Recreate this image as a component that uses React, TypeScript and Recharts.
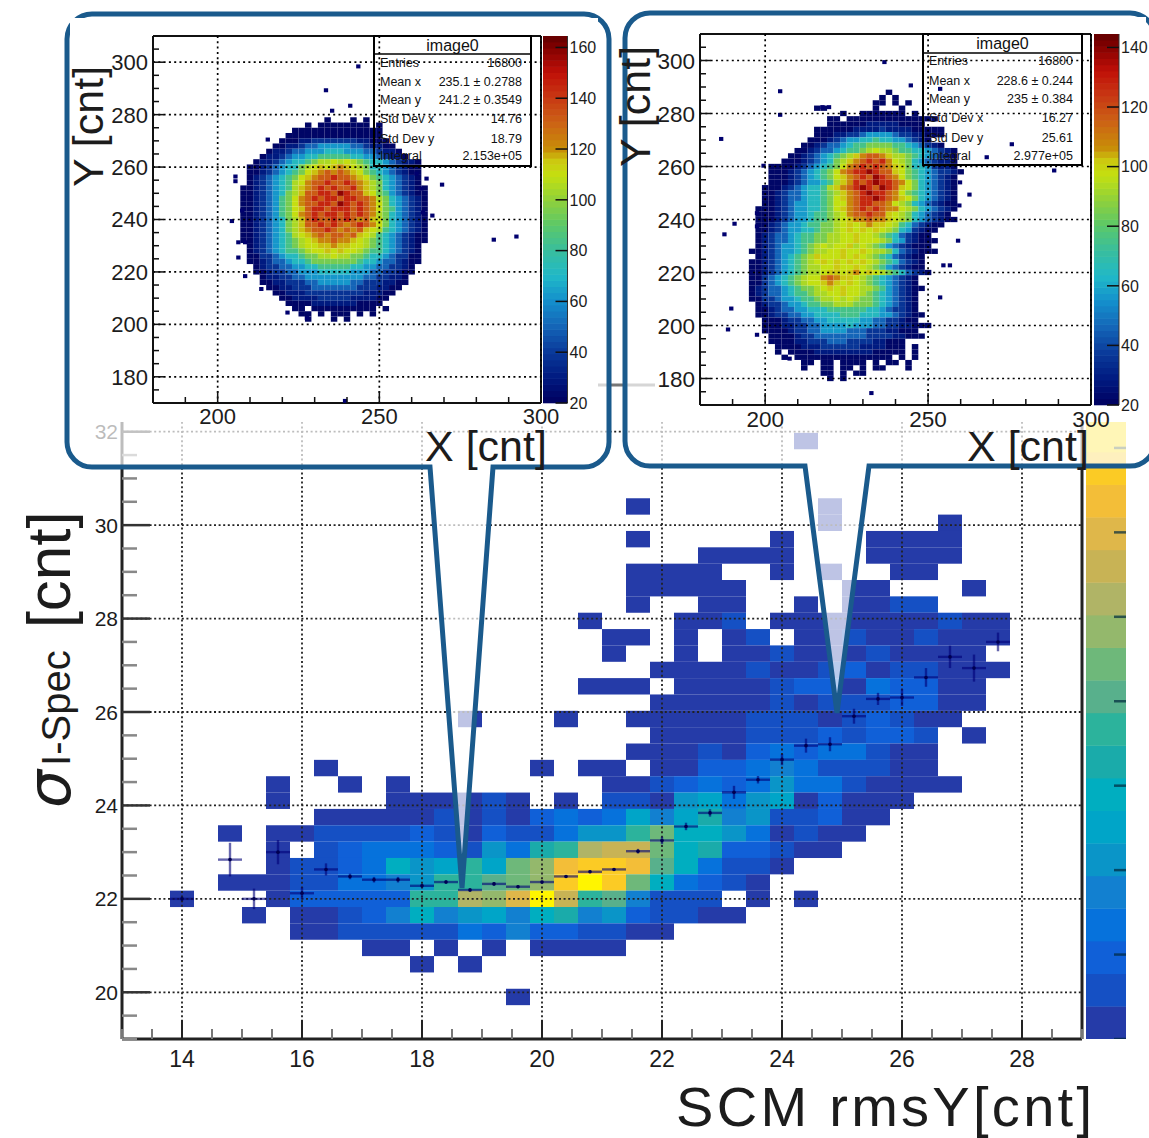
import React from 'react';
import { ScatterChart, Scatter, XAxis, YAxis, CartesianGrid, ErrorBar } from 'recharts';

// main histogram: one string per row, top row first, chars are colour levels (base 36), '.' = empty
// row k sits at y = 22 + 0.35k, first column at x = 14, columns 0.4 wide
const MAIN_TOP_ROW = 28;
const MAIN_ROWS = [
  '..........................0',
  '',
  '',
  '',
  '...................0.......0',
  '...........................0....0',
  '...................0.....0...0000',
  '......................0000...0000',
  '...................0000..0.0..00',
  '...................00000....00...0',
  '...................0..00..0.0011',
  '.................0...001.0000000100',
  '..................00.0.01.001001000',
  '..................0..0.00100010000',
  '....................000010012011000',
  '.................000.0000122032200',
  '....................00000101112200',
  '............0...0..00000111012100',
  '....................000011121221.0',
  '...................0001023233100',
  '......0........0.00.002234311100',
  '....0..0.0........001232353310000',
  '....0....000010.0.1105635602000',
  '......000001010232364684511200',
  '..0.0011112102113559b77530100',
  '....0.12333215389deeb7822100',
  '....0112375696bcghhga73110',
  '..00011334599abchjhb73210',
  '0...02222299dcfje9a4111.0.0',
  '...0.0012474564784521100',
  '.....0011111324221100',
  '........00.0.0.0000',
  '..........0.0',
  '',
  '..............0',
];
const MAIN_LEVEL_COLORS = [
  '#253BA8', '#1550C4', '#1060D8', '#0672DC', '#1280D0', '#0A95C8', '#00A5C8', '#00AEC0', '#1AABAA', '#2CB39C',
  '#58B08C', '#6EB87A', '#94B86C', '#B0B466', '#C8B355', '#DFB74A', '#F3BE38', '#FBCB25', '#FFE010', '#FFF500',
];

// profile points on top of the histogram
const PROFILE_X = [14, 14.8, 15.2, 15.6, 16, 16.4, 16.8, 17.2, 17.6, 18, 18.4, 18.8, 19.2, 19.6, 20, 20.4, 20.8, 21.2, 21.6, 22, 22.4, 22.8, 23.2, 23.6, 24, 24.4, 24.8, 25.2, 25.6, 26, 26.4, 26.8, 27.2, 27.6];
const PROFILE_Y = [22, 22.84, 22, 23, 22.12, 22.63, 22.48, 22.41, 22.41, 22.28, 22.36, 22.19, 22.32, 22.26, 22.36, 22.48, 22.58, 22.63, 23.02, 23.25, 23.55, 23.84, 24.28, 24.55, 24.98, 25.28, 25.31, 25.91, 26.28, 26.31, 26.74, 27.18, 26.94, 27.5];
const PROFILE_ERR = [0.05, 0.36, 0.22, 0.26, 0.13, 0.13, 0.06, 0.06, 0.06, 0.04, 0.04, 0.04, 0.04, 0.03, 0.03, 0.03, 0.03, 0.03, 0.05, 0.08, 0.08, 0.08, 0.14, 0.08, 0.12, 0.15, 0.15, 0.16, 0.13, 0.18, 0.2, 0.24, 0.29, 0.2];

const MAIN_X_TICKS = [13, 13.5, 14, 14.5, 15, 15.5, 16, 16.5, 17, 17.5, 18, 18.5, 19, 19.5, 20, 20.5, 21, 21.5, 22, 22.5, 23, 23.5, 24, 24.5, 25, 25.5, 26, 26.5, 27, 27.5, 28, 28.5, 29];
const MAIN_Y_TICKS = [19, 19.5, 20, 20.5, 21, 21.5, 22, 22.5, 23, 23.5, 24, 24.5, 25, 25.5, 26, 26.5, 27, 27.5, 28, 28.5, 29, 29.5, 30, 30.5, 31, 31.5, 32, 32.5, 33];
const MAIN_X_MAJOR = [14, 16, 18, 20, 22, 24, 26, 28];
const MAIN_Y_MAJOR = [20, 22, 24, 26, 28, 30, 32];
const MAIN_BAR_TICKS = [0, 2.59, 5.18, 7.77, 10.36, 12.95, 15.54, 18.13];

// inset counts per level char
const LEVEL_CHARS = '0123456789abcde';
const LEFT_COUNTS = [22, 30, 38, 50, 62, 72, 84, 95, 105, 110, 116, 122, 132, 145, 158];
const RIGHT_COUNTS = [22, 29, 36, 46, 57, 65, 75, 85, 93, 97, 102, 108, 116, 127, 138];

// left inset: first row y = 278, rows step -2; first column x = 206, columns step 2
const LEFT_ROWS = [
  '..............0...0.0',
  '...........0.00000000.0',
  '.........00000000000000',
  '........000000000000000',
  '.......00011222222211000',
  '......0011233444443321100',
  '.....011233444555444332110',
  '....01123445566666554432110',
  '...0112345567889898765543211 0'.replace(' ', ''),
  '..00123455789a9aba98755432100',
  '..0012345679abcbcba9765432100',
  '..012345679abccdccba976543210',
  '..012345689bccdccdcba87543210',
  '.001234568abcdcdccdba875432100',
  '.00123457 8accddcedcca976432100'.replace(' ', ''),
  '.001234679bcdcddcddccb87543210',
  '.001234679bccddcedcdcb97543210',
  '.001234679acddcdddcdcb97643210',
  '.001234679bcdcddcdcdcb87543210',
  '.001234578acdccdcdcbca97543210',
  '.001234578accdcdcbcdcb97543210',
  '.001234578abccdcbcbca986543210',
  '.0012345689abcbccbca9865432100',
  '.00123456789abbcbba98765432100',
  '..01234567899aabaa99876543210',
  '..012345667899a9a998766543210',
  '..002234556778898877655432200',
  '..001233455677777776554332100',
  '...0122334455666665544332210',
  '...0012233444555554443322100',
  '....01122334444444443322110',
  '....00112223344444332221100',
  '.....001122233333332221 100'.replace(' ', ''),
  '......0011122222222211100',
  '.......00111122222111100',
  '........000011111110000',
  '.........00.0000000000.0',
  '..........00.0.000.0.0',
  '...........0...0.0',
];
const LEFT_STRAY_X = [233.5, 235.4, 241, 243.5, 215.5, 205.5, 205.5, 204.4, 207.6, 206.4, 208.5, 206.4, 208.5, 213.5, 221.6, 227.6, 261.5, 264.6, 269.4, 266.4, 263.5, 285.4, 292.4, 263, 239.4];
const LEFT_STRAY_Y = [289.3, 281.5, 283.4, 298.4, 270.5, 256.4, 254.6, 239.4, 243.4, 231.3, 231.3, 225.5, 218.4, 213.5, 204.5, 202.4, 257.5, 255.6, 253.3, 241.5, 242.7, 232.3, 233.5, 251.8, 170.8];

// right inset: first row y = 288, rows step -2; first column x = 192, columns step 2
const RIGHT_ROWS = [
  '.......................0',
  '......................0.0',
  '.....................00.0.0',
  '............00.......0...0',
  '................0..0000000.0',
  '..............00.00000000000000',
  '..............000000111110000',
  '............00000011112111100000',
  '............00011223444432211000',
  '...........0001234455655443210',
  '..........0012334566777766543210',
  '.........0012334566789887665543210',
  '........0012345678abccba8876543210',
  '.......0001234578abcdcdb9875432110',
  '.....000012345679bcdcdcba975542110',
  '.....00012345679bcddedcca9765432210',
  '.....00012345679abcdcedcb976543210',
  '.....00012344568abdcdeddcb97543210',
  '....00012345568abcdedcedca97543210',
  '....001233455678abcdeddcb976543210',
  '....001233455679abcddedcba97543210',
  '....0012344556799bcddccb9875432100',
  '...0001234455679abcdcdcbb987543210',
  '...00012344566789bccdcca987543210',
  '...00012344566789abbcbba9875432100',
  '...00123445667789a9abaa986532100',
  '...00123445567789a9a9a987542100',
  '...012334566778899a99876532100',
  '...012334566778899a999875421000',
  '...01234456789899a898764321000',
  '..00123445678899a99a98875321000',
  '...012345678a999a9a9876532100',
  '..00123456789a9a9a9a987653210',
  '..0012345678899a99a9876432100',
  '..001234567889aa9ab9a987653210',
  '..00234567899bcbaa9876543210',
  '..00234567899aba9a9876543210',
  '..012334567789a9a998876432100',
  '..0123345667889 9a998765 43210'.replace(/ /g, ''),
  '..00223445667889898776543210',
  '...0122344566778887776543210',
  '...0012334455566666655432210',
  '...00122334455556665554432100',
  '....000122334455555443322100',
  '....00011223344445444332211000',
  '....000012233444433322211000',
  '.....000012233333333222211000',
  '.....000011222333222211000',
  '......00001112222221111000.0',
  '......0.000011111111100000.0',
  '.......0.000000000000000.0.0',
  '..........00.00.0000.0.00.0',
  '..........0..00.00.0.00...0',
  '.............00.0.00',
  '..............0.0',
];
const RIGHT_STRAY_X = [186.5, 204.6, 236.6, 244.7, 217.6, 219.6, 204.6, 199.5, 187.5, 190.6, 197.5, 197.5, 189.6, 188.6, 197.5, 232.6, 207.5, 253.7, 275.7, 268, 288.7, 262.7, 259.8, 259.6, 259.2, 253.7, 256.7, 254.7];
const RIGHT_STRAY_Y = [270.4, 288.4, 299.4, 290.6, 282.4, 282.4, 279.5, 260.3, 234.4, 238.4, 242.4, 237.4, 206.4, 198.5, 196.5, 174.5, 187.5, 289.3, 268.4, 263.5, 258.5, 249.4, 254, 245.3, 232, 210.6, 222.7, 222.7];

const INSET_X_TICKS = [180, 190, 200, 210, 220, 230, 240, 250, 260, 270, 280, 290, 300];
const INSET_Y_TICKS = [170, 175, 180, 185, 190, 195, 200, 205, 210, 215, 220, 225, 230, 235, 240, 245, 250, 255, 260, 265, 270, 275, 280, 285, 290, 295, 300, 305, 310];
const INSET_X_MAJOR = [200, 250, 300];
const INSET_Y_MAJOR = [180, 200, 220, 240, 260, 280, 300];
const LEFT_BAR_TICKS = [20, 40, 60, 80, 100, 120, 140, 160];
const RIGHT_BAR_TICKS = [20, 40, 60, 80, 100, 120, 140];

const LEFT_STATS = [
  ['Entries', '16800'], ['Mean x', '235.1 ± 0.2788'], ['Mean y', '241.2 ± 0.3549'],
  ['Std Dev x', '14.76'], ['Std Dev y', '18.79'], ['Integral', '2.153e+05'],
];
const RIGHT_STATS = [
  ['Entries', '16800'], ['Mean x', '228.6 ±  0.244'], ['Mean y', '235 ±  0.384'],
  ['Std Dev x', '16.27'], ['Std Dev y', '25.61'], ['Integral', '2.977e+05'],
];

const FONT = '"Liberation Sans", Arial, sans-serif';
const BLUE = '#1A5A8C';

const RAINBOW: [number, string][] = [
  [0, '#00005F'], [0.07, '#001A80'], [0.14, '#0A3A9A'], [0.21, '#1466B8'], [0.28, '#1490CC'], [0.345, '#20B8C8'],
  [0.415, '#38BE9E'], [0.485, '#5CC868'], [0.55, '#8ED03C'], [0.62, '#C4E010'], [0.66, '#CCC810'], [0.69, '#C89008'],
  [0.76, '#CC6414'], [0.83, '#C83A14'], [0.9, '#C01008'], [0.97, '#800000'], [1, '#600000'],
];

function rainbow(f: number) {
  const t = Math.max(0, Math.min(1, f));
  let i = 0;
  while (i < RAINBOW.length - 2 && RAINBOW[i + 1][0] < t) i++;
  const [a, ca] = RAINBOW[i];
  const [b, cb] = RAINBOW[i + 1];
  const u = (t - a) / (b - a);
  const ch = (c: string, k: number) => parseInt(c.slice(k, k + 2), 16);
  const mix = (k: number) => Math.round(ch(ca, k) + (ch(cb, k) - ch(ca, k)) * u);
  return `rgb(${mix(1)},${mix(3)},${mix(5)})`;
}

const mainCells: { x: number; y: number; fill: string }[] = [];
MAIN_ROWS.forEach((row, r) => {
  [...row].forEach((c, i) => {
    if (c === '.') return;
    mainCells.push({ x: 14 + i * 0.4, y: 22 + (MAIN_TOP_ROW - r) * 0.35, fill: MAIN_LEVEL_COLORS[parseInt(c, 36)] });
  });
});
const profile = PROFILE_X.map((x, i) => ({ x, y: PROFILE_Y[i], ex: 0.2, ey: PROFILE_ERR[i] }));

function insetCells(rows: string[], x0: number, y0: number, counts: number[], top: number) {
  const out: { x: number; y: number; fill: string }[] = [];
  rows.forEach((row, r) => {
    [...row].forEach((c, i) => {
      const lv = LEVEL_CHARS.indexOf(c);
      if (lv < 0) return;
      out.push({ x: x0 + i * 2, y: y0 - r * 2, fill: rainbow((counts[lv] - 20) / (top - 20)) });
    });
  });
  return out;
}

// rect marker of a fixed pixel size around the scaled point
const cellShape = (w: number, h: number) => (p: any) => (
  <rect x={p.cx - w / 2} y={p.cy - h / 2} width={w} height={h} fill={p.payload.fill || '#00006E'} />
);

type TickOpts = { side: string; majors: number[]; majorLen: number; minorLen: number; labels?: boolean; font?: number; gap?: number; color?: string; minorColor?: string; width?: number };

const makeTick = (o: TickOpts) => (p: any) => {
  const v = p.payload.value;
  const isMajor = o.majors.includes(v);
  const len = isMajor ? o.majorLen : o.minorLen;
  const dx = o.side === 'left' ? len : o.side === 'right' ? -len : 0;
  const dy = o.side === 'bottom' ? -len : o.side === 'top' ? len : 0;
  return (
    <g>
      <line x1={p.x} y1={p.y} x2={p.x + dx} y2={p.y + dy} stroke={isMajor ? o.color || '#111' : o.minorColor || o.color || '#111'} strokeWidth={o.width || 1.5} />
      {o.labels && isMajor && o.side === 'bottom' && (
        <text x={p.x} y={p.y + (o.gap || 0)} textAnchor="middle" fontFamily={FONT} fontSize={o.font} fill="#1c1c1c">{v}</text>
      )}
      {o.labels && isMajor && o.side === 'left' && (
        <text x={p.x - (o.gap || 0)} y={p.y} dy="0.36em" textAnchor="end" fontFamily={FONT} fontSize={o.font} fill="#1c1c1c">{v}</text>
      )}
    </g>
  );
};

const MainChart = () => (
  <ScatterChart width={1149} height={1138} margin={{ top: 384, right: 66, bottom: 0, left: 0 }} style={{ position: 'absolute', left: 0, top: 0 }}>
    <XAxis type="number" dataKey="x" domain={[13, 29]} ticks={MAIN_X_TICKS} interval={0} height={99} tickSize={0} tickMargin={0} tickLine={false}
      axisLine={{ stroke: '#222', strokeWidth: 3 }}
      tick={makeTick({ side: 'bottom', majors: MAIN_X_MAJOR, majorLen: 19, minorLen: 10, labels: true, font: 23, gap: 28, color: '#222', minorColor: '#777', width: 2 })} />
    <XAxis xAxisId="top" orientation="top" type="number" dataKey="x" domain={[13, 29]} ticks={MAIN_X_TICKS} interval={0} height={1} tickSize={0} tickMargin={0} tickLine={false}
      axisLine={{ stroke: '#777', strokeWidth: 3 }}
      tick={makeTick({ side: 'top', majors: MAIN_X_MAJOR, majorLen: 19, minorLen: 10, color: '#777', minorColor: '#777', width: 2 })} />
    <YAxis type="number" dataKey="y" domain={[19, 33]} ticks={MAIN_Y_TICKS} interval={0} width={122} tickSize={0} tickMargin={0} tickLine={false}
      axisLine={{ stroke: '#222', strokeWidth: 3 }}
      tick={makeTick({ side: 'left', majors: MAIN_Y_MAJOR, majorLen: 28, minorLen: 15, labels: true, font: 21, gap: 4, color: '#333', minorColor: '#888', width: 2.5 })} />
    <YAxis yAxisId="right" orientation="right" type="number" dataKey="y" domain={[19, 33]} ticks={MAIN_Y_TICKS} interval={0} width={1} tickSize={0} tickMargin={0} tickLine={false}
      axisLine={{ stroke: '#222', strokeWidth: 3 }}
      tick={makeTick({ side: 'right', majors: MAIN_Y_MAJOR, majorLen: 28, minorLen: 15, color: '#333', minorColor: '#888', width: 2.5 })} />
    <Scatter data={mainCells} isAnimationActive={false} shape={cellShape(24, 16.4)} />
    <CartesianGrid zIndex={650} verticalValues={MAIN_X_MAJOR} horizontalValues={MAIN_Y_MAJOR} stroke="#222" strokeWidth={1.8} strokeDasharray="2 2.6" />
    <Scatter zIndex={670} data={profile} isAnimationActive={false} shape={(p: any) => <circle cx={p.cx} cy={p.cy} r={1.8} fill="#000050" />}>
      <ErrorBar zIndex={660} dataKey="ex" direction="x" width={0} stroke="rgba(0,0,120,0.6)" strokeWidth={2.4} isAnimationActive={false} />
      <ErrorBar zIndex={660} dataKey="ey" direction="y" width={0} stroke="rgba(0,0,120,0.6)" strokeWidth={2.4} isAnimationActive={false} />
    </Scatter>
  </ScatterChart>
);

const MainBar = () => {
  const levelH = 32.6;
  const cells = MAIN_LEVEL_COLORS.map((fill, i) => ({ x: 0.5, y: i + 0.5, fill }));
  return (
    <ScatterChart width={41} height={654} margin={{ top: 0, right: 0, bottom: 0, left: 0 }} style={{ position: 'absolute', left: 1086, top: 385 }}>
      <XAxis type="number" dataKey="x" domain={[0, 1]} hide />
      <YAxis type="number" dataKey="y" orientation="right" domain={[0, 20.06]} ticks={MAIN_BAR_TICKS} interval={0} width={1} tickSize={0} tickMargin={0} tickLine={false} axisLine={false}
        tick={makeTick({ side: 'right', majors: MAIN_BAR_TICKS, majorLen: 12, minorLen: 0, color: 'rgba(0,40,60,0.7)', width: 2.5 })} />
      <Scatter zIndex={400} data={cells} isAnimationActive={false} shape={cellShape(40, levelH + 0.4)} />
    </ScatterChart>
  );
};

const InsetBar = ({ left, top, width, height, max, ticks }: { left: number; top: number; width: number; height: number; max: number; ticks: number[] }) => {
  const steps = 60;
  const cells = Array.from({ length: steps }, (_, i) => {
    const f = (i + 0.5) / steps;
    return { x: 0.5, y: 20 + f * (max - 20), fill: rainbow(f) };
  });
  return (
    <ScatterChart width={width + 34} height={height + 14} margin={{ top: 0, right: 33, bottom: 14, left: 0 }} style={{ position: 'absolute', left, top }}>
      <XAxis type="number" dataKey="x" domain={[0, 1]} hide />
      <YAxis type="number" dataKey="y" orientation="right" domain={[20, max]} ticks={ticks} interval={0} width={1} tickSize={0} tickMargin={0} tickLine={false} axisLine={{ stroke: '#333', strokeWidth: 1 }}
        tick={(p: any) => (
          <g>
            <line x1={p.x} y1={p.y} x2={p.x - 12} y2={p.y} stroke="#111" strokeWidth={1.5} />
            <text x={p.x + 2} y={p.y} dy="0.36em" fontFamily={FONT} fontSize={16} fill="#1c1c1c">{p.payload.value}</text>
          </g>
        )} />
      <Scatter zIndex={400} data={cells} isAnimationActive={false} shape={cellShape(width, height / steps + 0.6)} />
    </ScatterChart>
  );
};

const Inset = ({ left, top, width, height, axisW, marginTop, axisH, cells, strays, gap, font }: any) => {
  const plotW = width - axisW;
  const plotH = height - marginTop - axisH;
  const cw = (plotW / 120) * 2;
  const ch = (plotH / 140) * 2;
  const common = { interval: 0 as const, tickSize: 0, tickMargin: 0, tickLine: false, axisLine: { stroke: '#111', strokeWidth: 2 } };
  return (
    <ScatterChart width={width + 34} height={height} margin={{ top: marginTop - 1, right: 33, bottom: 0, left: 0 }} style={{ position: 'absolute', left, top }}>
      <XAxis type="number" dataKey="x" domain={[180, 300]} ticks={INSET_X_TICKS} height={axisH} {...common}
        tick={makeTick({ side: 'bottom', majors: INSET_X_MAJOR, majorLen: 12, minorLen: 6, labels: true, font, gap, color: '#111' })} />
      <XAxis xAxisId="top" orientation="top" type="number" dataKey="x" domain={[180, 300]} ticks={INSET_X_TICKS} height={1} {...common}
        tick={makeTick({ side: 'top', majors: INSET_X_MAJOR, majorLen: 12, minorLen: 6, color: '#111' })} />
      <YAxis type="number" dataKey="y" domain={[170, 310]} ticks={INSET_Y_TICKS} width={axisW} {...common}
        tick={makeTick({ side: 'left', majors: INSET_Y_MAJOR, majorLen: 11, minorLen: 6, labels: true, font, gap: 5, color: '#111' })} />
      <YAxis yAxisId="right" orientation="right" type="number" dataKey="y" domain={[170, 310]} ticks={INSET_Y_TICKS} width={1} {...common}
        tick={makeTick({ side: 'right', majors: INSET_Y_MAJOR, majorLen: 13, minorLen: 7, color: '#111' })} />
      <Scatter data={cells} isAnimationActive={false} shape={cellShape(cw, ch)} />
      <Scatter data={strays} isAnimationActive={false} shape={cellShape(4.3, 4)} />
      <CartesianGrid zIndex={650} verticalValues={INSET_X_MAJOR} horizontalValues={INSET_Y_MAJOR} stroke="#000" strokeWidth={1.7} strokeDasharray="2 3.3" />
    </ScatterChart>
  );
};

const StatsBox = ({ x, y, w, h, sep, rows, rowY, labelX, valueX, titleY }: any) => (
  <g fontFamily={FONT} fill="#111">
    <rect x={x} y={y} width={w} height={h} fill="none" stroke="#000" strokeWidth={2} />
    <line x1={x} x2={x + w} y1={sep} y2={sep} stroke="#000" strokeWidth={1.6} />
    <text x={x + w / 2} y={titleY} textAnchor="middle" fontSize={16}>image0</text>
    {rows.map((r: string[], i: number) => (
      <g key={r[0]} fontSize={12.5}>
        <text x={labelX} y={rowY[i]}>{r[0]}</text>
        <text x={valueX} y={rowY[i]} textAnchor="end">{r[1]}</text>
      </g>
    ))}
  </g>
);

const Overlay = () => (
  <svg width={1149} height={1138} style={{ position: 'absolute', left: 0, top: 0, pointerEvents: 'none' }}>
    <StatsBox x={374} y={36} w={157} h={130} sep={54} rows={LEFT_STATS} rowY={[67, 86, 104, 123, 143, 160]} labelX={380} valueX={522} titleY={51} />
    <StatsBox x={923} y={34} w={159} h={131} sep={53} rows={RIGHT_STATS} rowY={[65, 85, 103, 122, 142, 160]} labelX={929} valueX={1073} titleY={49} />
    <g fontFamily={FONT} fill="#1c1c1c" fontSize={43}>
      <text transform="translate(103,187) rotate(-90)">Y [cnt]</text>
      <text transform="translate(650,167) rotate(-90)">Y [cnt]</text>
      <text x={425} y={461}>X [cnt]</text>
      <text x={967} y={461}>X [cnt]</text>
    </g>
    <text x={676} y={1126} fontFamily={FONT} fontSize={56} textLength={416} lengthAdjust="spacing" fill="#1c1c1c">SCM rmsY[cnt]</text>
    <text transform="translate(70,808) rotate(-90)" fontFamily={FONT} fill="#1c1c1c">
      <tspan fontSize={60} fontStyle="italic" fontFamily='"DejaVu Sans", sans-serif'>σ</tspan>
      <tspan dx={4} fontSize={40}>I-Spec</tspan>
      <tspan dx={22} fontSize={62}>[cnt]</tspan>
    </text>
  </svg>
);

const Callouts = () => (
  <svg width={1149} height={1138} style={{ position: 'absolute', left: 0, top: 0, pointerEvents: 'none' }}>
    <g fill="rgba(255,255,255,0.7)" stroke={BLUE} strokeWidth={5} strokeLinejoin="miter" strokeMiterlimit={3}>
      <path d="M430 467 H92 A25 25 0 0 1 67 442 V39 A25 25 0 0 1 92 14 H584 A25 25 0 0 1 609 39 V442 A25 25 0 0 1 584 467 H493 L462 888 Z" />
      <path d="M805 466 H650 A25 25 0 0 1 625 441 V38 A25 25 0 0 1 650 13 H1130 A25 25 0 0 1 1155 38 V441 A25 25 0 0 1 1130 466 H869 L837 713 Z" />
    </g>
  </svg>
);

export default function App() {
  const leftCells = insetCells(LEFT_ROWS, 206, 278, LEFT_COUNTS, 164.5);
  const rightCells = insetCells(RIGHT_ROWS, 192, 288, RIGHT_COUNTS, 144.5);
  const leftStrays = LEFT_STRAY_X.map((x, i) => ({ x, y: LEFT_STRAY_Y[i] }));
  const rightStrays = RIGHT_STRAY_X.map((x, i) => ({ x, y: RIGHT_STRAY_Y[i] }));
  return (
    <div style={{ position: 'absolute', left: 0, top: 0, width: 1149, height: 1138, overflow: 'hidden', background: '#fff' }}>
      <MainChart />
      <MainBar />
      <Callouts />
      <div style={{ position: 'absolute', left: 70, top: 18, width: 528, height: 404, background: '#fff' }} />
      <div style={{ position: 'absolute', left: 655, top: 17, width: 491, height: 405, background: '#fff' }} />
      <Inset left={70} top={17} width={471} height={415} axisW={83} marginTop={19} axisH={29} cells={leftCells} strays={leftStrays} gap={21} font={22} />
      <InsetBar left={543} top={36} width={24.5} height={367} max={164.5} ticks={LEFT_BAR_TICKS} />
      <Inset left={655} top={17} width={436} height={415} axisW={45} marginTop={17} axisH={27} cells={rightCells} strays={rightStrays} gap={22} font={22.5} />
      <InsetBar left={1094} top={34} width={25} height={371} max={144.5} ticks={RIGHT_BAR_TICKS} />
      <Overlay />
    </div>
  );
}
